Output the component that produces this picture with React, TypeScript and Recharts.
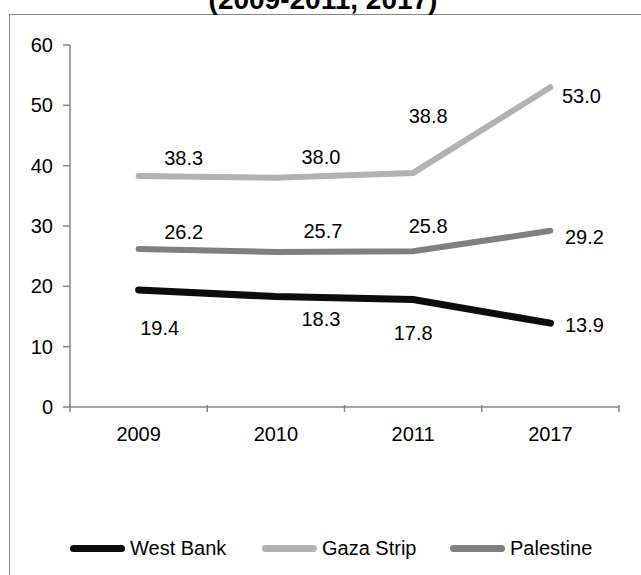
import { Legend, Line, LineChart, XAxis, YAxis, LabelList } from "recharts";

const years = ["2009", "2010", "2011", "2017"];
const westBank = [19.4, 18.3, 17.8, 13.9];
const gazaStrip = [38.3, 38.0, 38.8, 53.0];
const palestine = [26.2, 25.7, 25.8, 29.2];
const yTicks = [0, 10, 20, 30, 40, 50, 60];
const seriesOrder = ["West Bank", "Gaza Strip", "Palestine"];

// label nudges (dx, dy) from each point, like the hand-placed Excel labels
const westOffsets = [[21, 38], [45, 22], [0, 33], [34, 2]];
const gazaOffsets = [[45, -18], [45, -21], [15, -57], [31, 9]];
const palOffsets = [[45, -17], [47, -21], [15, -25], [34, 6]];

const data = years.map((year, i) => ({
  year,
  westBank: westBank[i],
  gazaStrip: gazaStrip[i],
  palestine: palestine[i]
}));

const font = "'Liberation Sans', Arial, sans-serif";
const W = 641;
const H = 575;
const margin = { top: 45, right: 22, left: 10, bottom: 98 };
const yAxisWidth = 60;
const plotWidth = W - margin.left - margin.right - yAxisWidth;
const halfBand = plotWidth / years.length / 2;

function makeLabel(offsets: number[][]) {
  return (props: any) => {
    const { x, y, value, index } = props;
    const [dx, dy] = offsets[index];
    return (
      <text
        x={x + dx}
        y={y + dy}
        textAnchor="middle"
        dominantBaseline="central"
        fontFamily={font}
        fontSize={20}
        fill="#000"
      >
        {Number(value).toFixed(1)}
      </text>
    );
  };
}

// year label plus tick marks on the category boundaries (Excel style)
function YearTick(props: any) {
  const { x, y, payload, index, visibleTicksCount } = props;
  const axisY = y - 10;
  const last = index === visibleTicksCount - 1;
  return (
    <g>
      <line x1={x - halfBand} x2={x - halfBand} y1={axisY} y2={axisY + 7} stroke="#868686" strokeWidth={1.5} />
      {last && (
        <line x1={x + halfBand} x2={x + halfBand} y1={axisY} y2={axisY + 7} stroke="#868686" strokeWidth={1.5} />
      )}
      <text x={x} y={axisY + 29} textAnchor="middle" dominantBaseline="central" fontFamily={font} fontSize={20} fill="#000">
        {payload.value}
      </text>
    </g>
  );
}

const legendLefts = [70, 262, 450];

function LegendRow(props: any) {
  const items = [...(props.payload || [])].sort(
    (a: any, b: any) => seriesOrder.indexOf(a.value) - seriesOrder.indexOf(b.value)
  );
  return (
    <div style={{ position: "relative", width: W, height: 30 }}>
      {items.map((item: any, i: number) => (
        <div
          key={item.value}
          style={{
            position: "absolute",
            left: legendLefts[i],
            top: 0,
            height: 30,
            display: "flex",
            alignItems: "center",
            fontFamily: font,
            fontSize: 20,
            color: "#000",
            whiteSpace: "nowrap"
          }}
        >
          <span
            style={{
              display: "inline-block",
              width: 55,
              height: 7,
              borderRadius: 4,
              background: item.color,
              marginRight: 5
            }}
          />
          {item.value}
        </div>
      ))}
    </div>
  );
}

export default function App() {
  return (
    <div style={{ position: "absolute", left: 0, top: 0, width: W, height: H, overflow: "hidden", background: "#fff" }}>
      <div
        style={{
          position: "absolute",
          left: 9,
          top: 14,
          width: 700,
          height: 700,
          borderLeft: "1.5px solid #868686",
          borderTop: "1.5px solid #868686"
        }}
      />
      <div
        style={{
          position: "absolute",
          left: 0,
          width: 646,
          top: -14,
          lineHeight: "28px",
          textAlign: "center",
          fontFamily: font,
          fontWeight: "bold",
          fontSize: 28
        }}
      >
        (2009-2011, 2017)
      </div>
      <div style={{ position: "absolute", left: 0, top: 0 }}>
        <LineChart width={W} height={H} data={data} margin={margin}>
          <XAxis
            dataKey="year"
            tickLine={false}
            padding={{ left: halfBand, right: halfBand }}
            height={40}
            interval={0}
            stroke="#868686"
            strokeWidth={1.5}
            tick={YearTick}
          />
          <YAxis
            domain={[0, 60]}
            ticks={yTicks}
            width={yAxisWidth}
            stroke="#868686"
            strokeWidth={1.5}
            tickSize={7}
            tickMargin={10}
            tick={{ fill: "#000", fontSize: 20, fontFamily: font }}
          />
          <Legend verticalAlign="bottom" height={30} content={LegendRow} wrapperStyle={{ top: 533, left: 0, bottom: "auto" }} />
          <Line
            dataKey="westBank"
            name="West Bank"
            stroke="#0d0d0d"
            strokeWidth={7}
            strokeLinecap="round"
            dot={false}
            isAnimationActive={false}
          >
            <LabelList dataKey="westBank" content={makeLabel(westOffsets)} />
          </Line>
          <Line
            dataKey="gazaStrip"
            name="Gaza Strip"
            stroke="#b2b2b2"
            strokeWidth={6}
            strokeLinecap="round"
            dot={false}
            isAnimationActive={false}
          >
            <LabelList dataKey="gazaStrip" content={makeLabel(gazaOffsets)} />
          </Line>
          <Line
            dataKey="palestine"
            name="Palestine"
            stroke="#808080"
            strokeWidth={6}
            strokeLinecap="round"
            dot={false}
            isAnimationActive={false}
          >
            <LabelList dataKey="palestine" content={makeLabel(palOffsets)} />
          </Line>
        </LineChart>
      </div>
    </div>
  );
}
